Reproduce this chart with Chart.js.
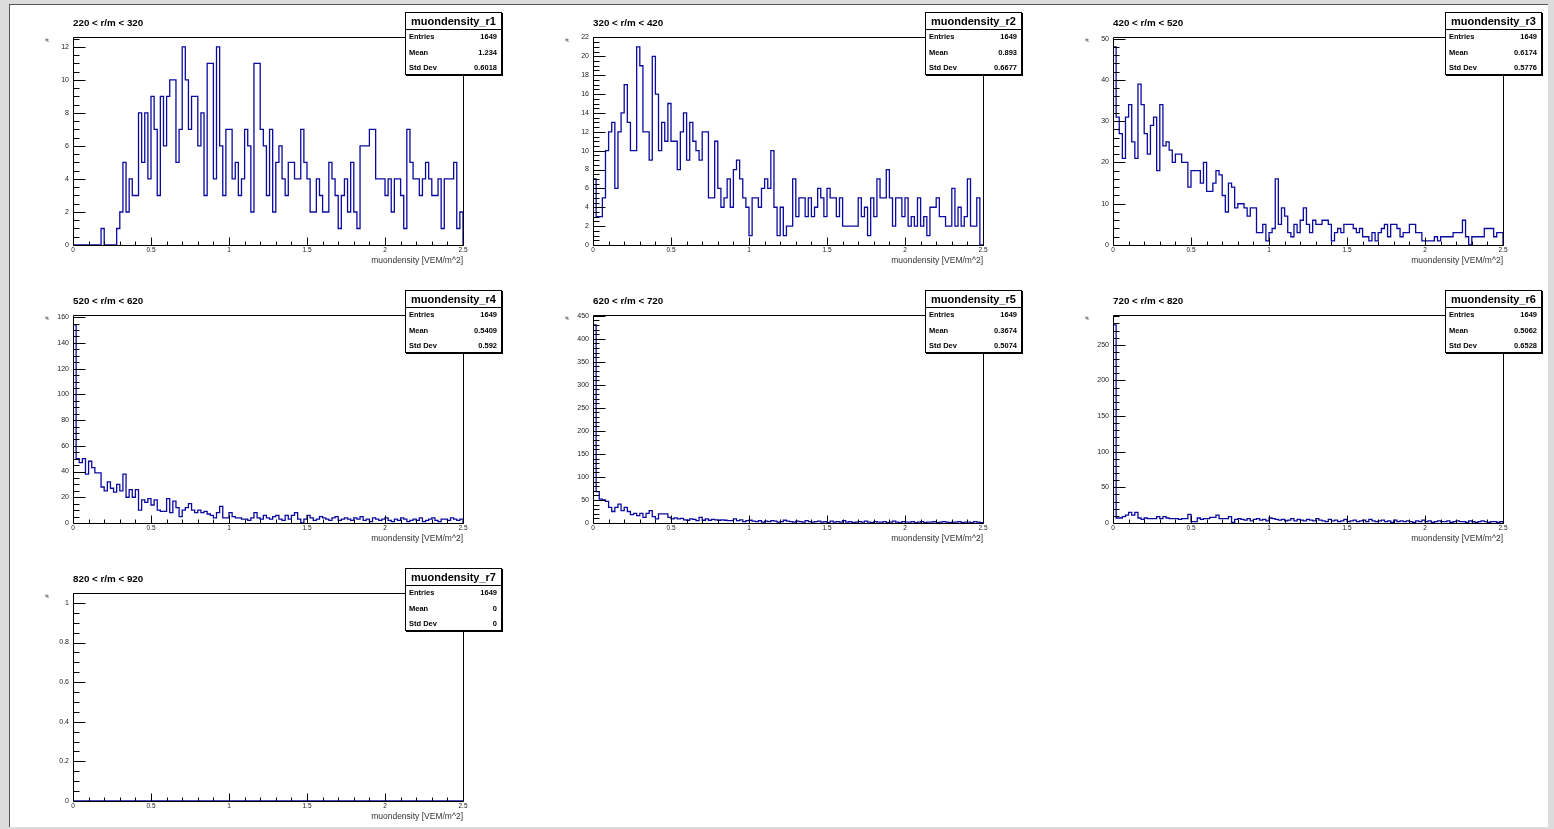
<!DOCTYPE html>
<html>
<head>
<meta charset="utf-8">
<script src="https://cdn.jsdelivr.net/npm/chart.js@4.4.1/dist/chart.umd.min.js"></script>
<style>
  html, body { margin: 0; padding: 0; }
  body {
    width: 1554px; height: 829px; position: relative; overflow: hidden;
    background: #dcdcdc;
    font-family: "Liberation Sans", Arial, Helvetica, sans-serif;
  }
  #pad {
    position: absolute; left: 9px; top: 4px; width: 1539px; height: 823px;
    background: #fff; box-sizing: border-box;
    border-left: 1px solid #555; border-top: 1px solid #555;
  }
  canvas.hist { position: absolute; }
  .title { position: absolute; font-size: 9.8px; font-weight: bold; line-height: 12px; white-space: nowrap; color: #000; }
  .ytitle { position: absolute; font-size: 6px; line-height: 6px; color: #222; transform: rotate(-90deg); }
  .xtitle { position: absolute; font-size: 8.5px; line-height: 10px; white-space: nowrap; color: #333; text-align: right; width: 200px; }
  .stats {
    position: absolute; width: 97px; height: 63px; box-sizing: border-box;
    border: 1px solid #000; background: #fff; box-shadow: 1px 1px 0 #000;
  }
  .stats .head {
    position: absolute; left: 0; top: 0; right: 0; height: 16px; border-bottom: 1px solid #000;
    font-size: 11px; font-weight: bold; line-height: 16px; text-align: center; white-space: nowrap;
  }
  .stats .row { position: absolute; left: 3px; right: 4px; height: 10px; font-size: 7.5px; font-weight: bold; line-height: 10px; }
  .stats .row span.v { position: absolute; right: 0; }
</style>
</head>
<body>
<div id="pad"></div>
<script>
// seven muon density histograms, 125 bins from 0 to 2.5
const BIN_COUNT = 125;
const X_MIN = 0;
const X_MAX = 2.5;

const panelTitles = ['220 < r/m < 320', '320 < r/m < 420', '420 < r/m < 520', '520 < r/m < 620',
                     '620 < r/m < 720', '720 < r/m < 820', '820 < r/m < 920'];
const histNames = ['muondensity_r1', 'muondensity_r2', 'muondensity_r3', 'muondensity_r4',
                   'muondensity_r5', 'muondensity_r6', 'muondensity_r7'];
const entries = [1649, 1649, 1649, 1649, 1649, 1649, 1649];
const means = ['1.234', '0.893', '0.6174', '0.5409', '0.3674', '0.5062', '0'];
const stdDevs = ['0.6018', '0.6677', '0.5776', '0.592', '0.5074', '0.6528', '0'];
const xTickLabels = ['0', '0.5', '1', '1.5', '2', '2.5'];
const xAxisTitle = 'muondensity [VEM/m^2]';
const yAxisTitle = '#';

const r1Counts = [
  0,0,0,0,0,0,0,0,0,1, 0,0,0,0,1,2,5,2,4,3, 3,8,5,8,4,9,7,3,9,6, 9,10,10,5,7,12,10,7,9,9,
  6,8,3,11,11,4,12,6,3,7, 7,4,5,3,4,7,6,2,11,11, 7,6,3,7,2,5,6,4,3,5, 5,4,4,7,5,4,2,2,4,3,
  2,2,5,4,3,1,3,4,2,5, 2,1,6,6,6,7,7,4,4,4, 3,4,2,4,4,3,1,7,5,4, 4,3,4,5,4,3,3,4,1,4, 4,4,5,1,2];
const r2Counts = [
  7,3,3,5,10,12,13,6,12,14, 17,13,10,10,21,19,12,12,9,20, 16,10,13,11,15,11,11,8,12,14, 9,13,11,10,9,12,12,5,5,11,
  6,4,5,7,4,8,9,7,5,4, 1,5,5,4,6,7,6,10,4,1, 4,1,2,2,7,3,5,5,3,5, 3,4,6,5,3,6,5,5,3,5,
  2,2,2,2,2,5,3,4,1,5, 3,7,5,5,8,5,2,5,5,3, 5,2,3,2,5,2,3,1,4,4, 5,3,3,2,2,6,2,4,2,3, 7,2,2,5,0];
const r3Counts = [
  48,31,27,21,31,34,25,21,39,34, 27,22,29,31,18,34,24,25,23,20, 22,22,20,20,14,18,18,18,15,20, 13,13,15,18,17,12,8,15,14,9,
  10,10,9,7,9,9,3,3,5,1, 3,4,16,5,9,7,3,2,5,3, 6,9,5,3,6,5,5,6,6,5, 1,3,4,3,5,5,5,4,3,4,
  2,2,1,3,1,3,4,5,2,5, 5,4,2,3,3,5,5,3,3,1, 1,1,1,2,1,2,2,2,2,3, 3,3,6,2,0,2,2,2,2,4, 4,4,2,3,3];
const r4Counts = [
  154,50,47,50,38,48,43,39,39,28, 25,32,27,24,30,25,38,20,26,20, 26,10,18,16,19,14,18,10,9,9, 19,8,17,12,5,10,12,15,10,8,
  10,8,9,7,6,4,8,13,4,4, 8,5,4,4,3,3,2,4,8,4, 3,6,4,3,5,6,3,2,6,3, 6,8,3,0,3,6,4,2,3,5,
  4,3,2,4,5,2,3,4,3,2, 4,3,5,2,3,1,4,3,2,3, 4,2,1,3,2,4,3,1,2,3, 2,4,1,2,3,4,2,1,3,3, 2,4,3,2,3];
const r5Counts = [
  430,68,52,50,47,34,25,34,41,27, 34,25,18,21,16,21,12,21,27,14, 9,20,20,20,12,9,11,9,10,7, 6,9,8,5,12,6,9,6,8,7,
  6,7,6,5,5,9,5,7,3,5, 6,4,3,5,2,4,3,5,4,2, 3,6,4,3,2,4,3,2,5,3, 2,3,4,2,3,1,4,2,3,2,
  5,2,3,1,2,3,2,4,2,1, 3,2,2,3,1,2,4,2,1,3, 2,2,3,1,2,3,1,2,2,3, 1,2,3,2,1,2,2,3,1,2, 2,1,3,2,1];
const r6Counts = [
  278,7,7,9,11,15,11,15,7,5, 7,6,6,6,9,6,9,7,6,6, 6,5,6,6,12,2,2,7,5,6, 6,8,8,11,6,6,6,9,1,5,
  6,5,4,6,3,5,6,4,5,3, 7,6,5,4,5,3,4,6,3,5, 4,3,5,4,3,6,4,3,2,5, 3,4,2,3,5,2,3,4,2,3,
  4,2,5,3,2,3,4,2,3,1, 4,2,3,2,3,2,1,3,2,4, 2,3,1,2,3,2,2,3,1,2, 3,2,2,1,3,2,1,2,3,2, 1,2,2,1,2];
const r7Counts = [
  0,0,0,0,0,0,0,0,0,0, 0,0,0,0,0,0,0,0,0,0, 0,0,0,0,0,0,0,0,0,0, 0,0,0,0,0,0,0,0,0,0,
  0,0,0,0,0,0,0,0,0,0, 0,0,0,0,0,0,0,0,0,0, 0,0,0,0,0,0,0,0,0,0, 0,0,0,0,0,0,0,0,0,0,
  0,0,0,0,0,0,0,0,0,0, 0,0,0,0,0,0,0,0,0,0, 0,0,0,0,0,0,0,0,0,0, 0,0,0,0,0,0,0,0,0,0, 0,0,0,0,0];

const allCounts = [r1Counts, r2Counts, r3Counts, r4Counts, r5Counts, r6Counts, r7Counts];

// axis divisions per panel (ROOT style: major step, minor subdivisions)
const yMajorStep = [2, 2, 10, 20, 50, 50, 0.2];
const yMinorDiv = [4, 4, 5, 4, 5, 5, 4];
const X_MAJOR = 0.5;
const X_MINOR_DIV = 5;

// layout
const FRAME_LEFT = [73, 593, 1113];
const FRAME_TOP = [37, 315, 593];
const FRAME_W = 390;
const FRAME_H = 208;
const PAD_L = 50, PAD_T = 12, PAD_R = 12, PAD_B = 26;
const HIST_COLOR = '#0a0aa0';

// ROOT-like frame with inward ticks
const rootAxes = {
  id: 'rootAxes',
  afterDraw(chart, args, opts) {
    const { ctx, chartArea: a } = chart;
    const xs = chart.scales.x, ys = chart.scales.y;
    const L = Math.round(a.left) + 0.5, R = Math.round(a.right) + 0.5;
    const T = Math.round(a.top) + 0.5, B = Math.round(a.bottom) + 0.5;
    ctx.save();
    ctx.strokeStyle = '#000';
    ctx.lineWidth = 1;
    ctx.beginPath();
    ctx.rect(L, T, R - L, B - T);
    // x ticks
    const xStep = X_MAJOR / X_MINOR_DIV;
    for (let i = 0; X_MIN + i * xStep <= X_MAX + 1e-9; i++) {
      const px = Math.round(xs.getPixelForValue(X_MIN + i * xStep)) + 0.5;
      const len = (i % X_MINOR_DIV === 0) ? 8 : 4;
      ctx.moveTo(px, B);
      ctx.lineTo(px, B - len);
    }
    // y ticks
    const yStep = opts.major / opts.div;
    for (let i = 0; i * yStep <= ys.max + 1e-9; i++) {
      const py = Math.round(ys.getPixelForValue(i * yStep)) + 0.5;
      const len = (i % opts.div === 0) ? 12 : 6;
      ctx.moveTo(L, py);
      ctx.lineTo(L + len, py);
    }
    ctx.stroke();
    ctx.restore();
  }
};

function histPoints(values) {
  const w = (X_MAX - X_MIN) / BIN_COUNT;
  const pts = [{ x: X_MIN, y: 0 }];
  values.forEach((v, i) => pts.push({ x: X_MIN + i * w, y: v }));
  pts.push({ x: X_MAX, y: 0 });
  return pts;
}

function addDiv(cls, left, top, html) {
  const d = document.createElement('div');
  d.className = cls;
  d.style.left = left + 'px';
  d.style.top = top + 'px';
  d.innerHTML = html;
  document.body.appendChild(d);
  return d;
}

function drawPanel(idx) {
  const fl = FRAME_LEFT[idx % 3];
  const ft = FRAME_TOP[Math.floor(idx / 3)];
  const values = allCounts[idx];
  const peak = Math.max(...values);
  const yMax = peak > 0 ? peak * 1.05 : 1.05;
  const yStep = yMajorStep[idx];

  const canvas = document.createElement('canvas');
  canvas.className = 'hist';
  canvas.width = PAD_L + FRAME_W + PAD_R;
  canvas.height = PAD_T + FRAME_H + PAD_B;
  canvas.style.left = (fl - PAD_L) + 'px';
  canvas.style.top = (ft - PAD_T) + 'px';
  document.body.appendChild(canvas);

  new Chart(canvas.getContext('2d'), {
    type: 'line',
    data: {
      datasets: [{
        data: histPoints(values),
        stepped: true,
        borderColor: HIST_COLOR,
        borderWidth: 1.3,
        pointRadius: 0,
        fill: false
      }]
    },
    options: {
      responsive: false,
      animation: false,
      events: [],
      layout: { padding: { left: 0, top: PAD_T, right: PAD_R, bottom: 0 } },
      plugins: {
        legend: { display: false },
        tooltip: { enabled: false },
        rootAxes: { major: yStep, div: yMinorDiv[idx] }
      },
      scales: {
        x: {
          type: 'linear', min: X_MIN, max: X_MAX,
          grid: { display: false, drawTicks: false }, border: { display: false },
          ticks: {
            stepSize: X_MAJOR, padding: 1, maxRotation: 0, autoSkip: false, includeBounds: false,
            color: '#222', font: { family: '"Liberation Sans", Arial', size: 6.5 },
            callback: (v, i) => xTickLabels[i]
          },
          afterFit(s) { s.height = PAD_B; s.paddingLeft = 0; s.paddingRight = 0; }
        },
        y: {
          type: 'linear', min: 0, max: yMax,
          grid: { display: false, drawTicks: false }, border: { display: false },
          ticks: {
            padding: 4, autoSkip: false,
            color: '#222', font: { family: '"Liberation Sans", Arial', size: 7 },
            callback: v => String(+v.toFixed(4))
          },
          afterBuildTicks(s) {
            const t = [];
            for (let i = 0; i * yStep <= s.max + 1e-9; i++) t.push({ value: +(i * yStep).toFixed(6) });
            s.ticks = t;
          },
          afterFit(s) { s.width = PAD_L; s.paddingTop = 0; s.paddingBottom = 0; }
        }
      }
    },
    plugins: [rootAxes]
  });

  addDiv('title', fl, ft - 20, panelTitles[idx]);
  addDiv('ytitle', fl - 28, ft, yAxisTitle);
  addDiv('xtitle', fl + FRAME_W - 200, ft + FRAME_H + 10, xAxisTitle);

  const box = addDiv('stats', fl + 332, ft - 25, '');
  box.innerHTML =
    '<div class="head">' + histNames[idx] + '</div>' +
    '<div class="row" style="top:19px">Entries<span class="v">' + entries[idx] + '</span></div>' +
    '<div class="row" style="top:35px">Mean<span class="v">' + means[idx] + '</span></div>' +
    '<div class="row" style="top:50px">Std Dev<span class="v">' + stdDevs[idx] + '</span></div>';
}

for (let i = 0; i < allCounts.length; i++) drawPanel(i);
</script>
</body>
</html>
